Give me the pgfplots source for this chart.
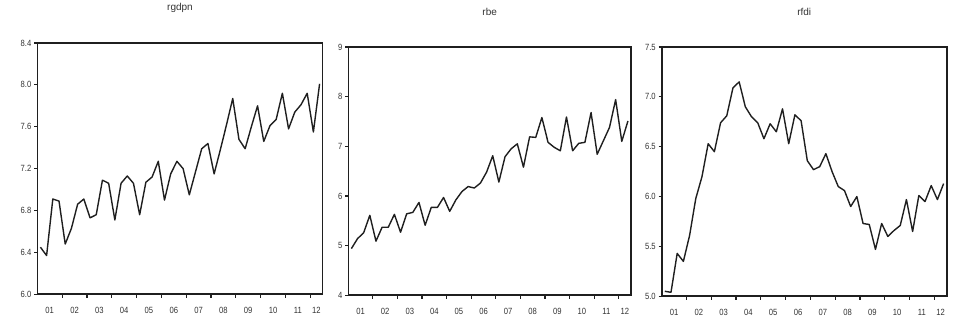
\documentclass[border=0pt]{standalone}
\usepackage{pgfplots}
\pgfplotsset{compat=1.18}
\usepackage{fontspec}
\setmainfont{Liberation Sans}
\definecolor{lncol}{gray}{0.12}
\definecolor{txcol}{gray}{0.2}
\pgfplotsset{
  eviews/.style={
    scale only axis,
    anchor=south west,
    xmin=-0.5, xmax=45.5,
    axis line style={draw=lncol, line width=1.6pt},
    every tick/.style={lncol, line width=1.2pt},
    tick align=outside,
    xtick pos=lower, ytick pos=left,
    xtick={1.5,5.5,...,41.5,44.5},
    xticklabels={01,02,03,04,05,06,07,08,09,10,11,12},
    major x tick style={draw opacity=0},
    minor xtick={3.5,7.5,...,43.5},
    minor tick length=3.5pt,
    major tick length=3pt,
    xticklabel style={yshift=-6pt, font=\fontsize{9}{10}\selectfont, text=txcol, xscale=0.85},
    yticklabel style={font=\fontsize{9}{10}\selectfont, text=txcol, xscale=0.85},
    /pgf/number format/assume math mode=true,
    title style={at={(0.5,1)}, anchor=center, yshift=29pt, font=\fontsize{10}{11}\selectfont, text=txcol},
  },
  ser/.style={draw=lncol, line width=1.4pt, mark=none, line join=round},
}
\tikzset{frame/.style={draw=lncol, line width=1.6pt, line cap=rect}}
\begin{document}
\begin{tikzpicture}
\path (0pt,0pt) (963pt,326pt);
\begin{axis}[eviews, name=a1, at={(37.3pt,32pt)}, width=285.4pt, height=251.3pt,
  title={rgdpn}, ymin=6.0, ymax=8.4, ytick={6.0,6.4,...,8.41},
  yticklabel style={/pgf/number format/fixed, /pgf/number format/fixed zerofill, /pgf/number format/precision=1}]
\addplot[ser] table {
0 6.45
1 6.37
2 6.91
3 6.89
4 6.48
5 6.63
6 6.86
7 6.91
8 6.73
9 6.76
10 7.09
11 7.06
12 6.71
13 7.06
14 7.13
15 7.06
16 6.76
17 7.07
18 7.12
19 7.27
20 6.90
21 7.15
22 7.27
23 7.20
24 6.95
25 7.17
26 7.39
27 7.44
28 7.15
29 7.38
30 7.62
31 7.87
32 7.48
33 7.39
34 7.60
35 7.80
36 7.46
37 7.61
38 7.67
39 7.92
40 7.58
41 7.74
42 7.81
43 7.92
44 7.55
45 8.01
};
\end{axis}
\begin{axis}[eviews, name=a2, at={(348.3pt,31pt)}, width=282.7pt, height=248.3pt,
  title={rbe}, ymin=4, ymax=9, ytick={4,5,6,7,8,9}]
\addplot[ser] table {
0 4.94
1 5.14
2 5.26
3 5.61
4 5.09
5 5.37
6 5.37
7 5.63
8 5.27
9 5.64
10 5.67
11 5.87
12 5.41
13 5.77
14 5.77
15 5.97
16 5.69
17 5.92
18 6.09
19 6.19
20 6.16
21 6.26
22 6.48
23 6.81
24 6.28
25 6.79
26 6.95
27 7.05
28 6.58
29 7.19
30 7.18
31 7.58
32 7.08
33 6.98
34 6.91
35 7.59
36 6.91
37 7.06
38 7.08
39 7.68
40 6.84
41 7.11
42 7.38
43 7.94
44 7.10
45 7.51
};
\end{axis}
\begin{axis}[eviews, name=a3, at={(661.7pt,30pt)}, width=285pt, height=249.3pt,
  title={rfdi}, ymin=5.0, ymax=7.5, ytick={5.0,5.5,...,7.51},
  yticklabel style={/pgf/number format/fixed, /pgf/number format/fixed zerofill, /pgf/number format/precision=1}]
\addplot[ser] table {
0 5.05
1 5.04
2 5.43
3 5.35
4 5.61
5 5.98
6 6.20
7 6.53
8 6.45
9 6.74
10 6.81
11 7.09
12 7.15
13 6.90
14 6.80
15 6.74
16 6.58
17 6.73
18 6.65
19 6.88
20 6.53
21 6.82
22 6.76
23 6.36
24 6.27
25 6.30
26 6.43
27 6.25
28 6.10
29 6.06
30 5.90
31 6.00
32 5.73
33 5.72
34 5.47
35 5.73
36 5.60
37 5.66
38 5.71
39 5.97
40 5.65
41 6.01
42 5.95
43 6.11
44 5.97
45 6.13
};
\end{axis}
\foreach \a in {a1,a2,a3}{
  \draw[frame] (\a.south west) -- (\a.south east);
  \draw[frame] (\a.south east) -- (\a.north east);
  \draw[frame] (\a.north east) -- (\a.north west);
  \draw[frame] (\a.north west) -- (\a.south west);
}
\end{tikzpicture}
\end{document}
